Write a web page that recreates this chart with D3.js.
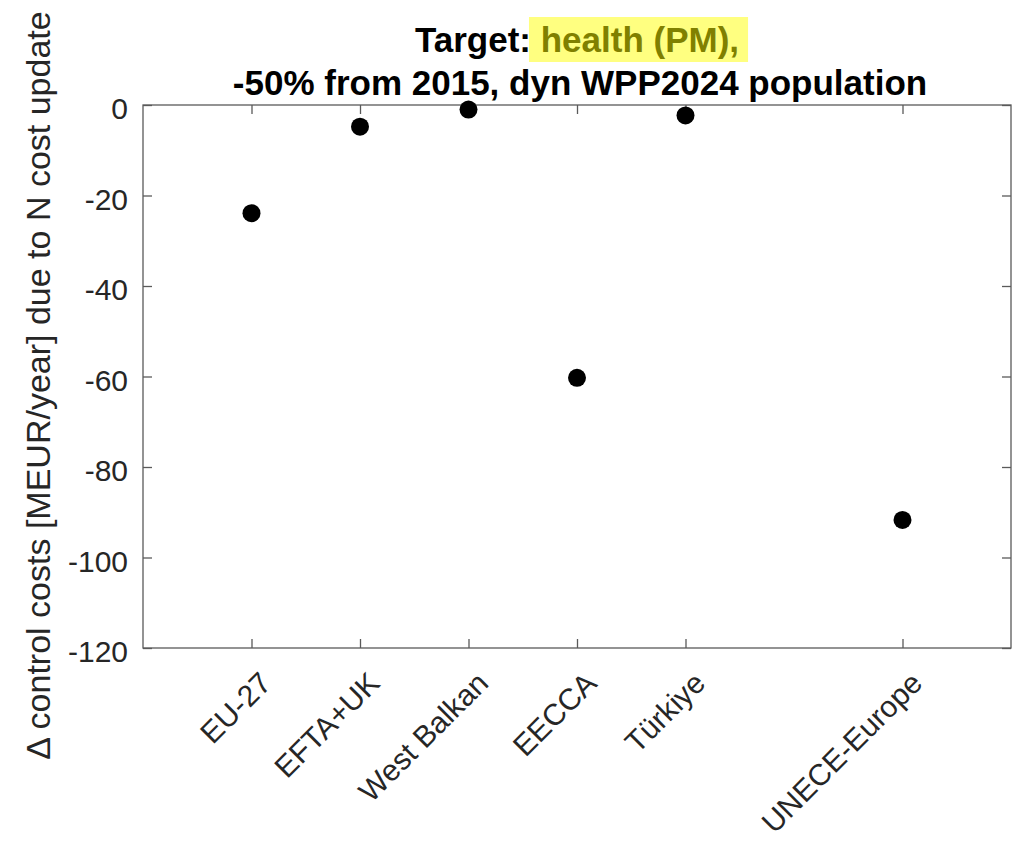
<!DOCTYPE html>
<html>
<head>
<meta charset="utf-8">
<script src="https://cdn.jsdelivr.net/npm/d3@7"></script>
<style>
  body { margin: 0; background: #fff; }
  svg { font-family: "Liberation Sans", Arial, sans-serif; }
</style>
</head>
<body>
<div id="container"></div>
<script>
/* DATA */
const regions = ["EU-27", "EFTA+UK", "West Balkan", "EECCA", "Türkiye", "UNECE-Europe"];
const regionPos = [1, 2, 3, 4, 5, 7];
const deltaCost = [-23.9, -4.8, -1.0, -60.3, -2.3, -91.7];
const yTicks = [0, -20, -40, -60, -80, -100, -120];

/* LAYOUT */
const width = 1013, height = 842;
const margin = { top: 105, left: 143, right: 2, bottom: 194 };
const innerW = width - margin.left - margin.right;
const innerH = height - margin.top - margin.bottom;
const axisColor = "#5a5a5a";
const textColor = "#262626";
const tickFont = "30px";

const svg = d3.select("#container")
  .append("svg")
  .attr("width", width)
  .attr("height", height);

const xScale = d3.scaleLinear().domain([0, 8]).range([0, innerW]);
const yScale = d3.scaleLinear().domain([-120, 0]).range([innerH, 0]);

const g = svg.append("g")
  .attr("transform", `translate(${margin.left},${margin.top})`);

// box
g.append("rect")
  .attr("width", innerW)
  .attr("height", innerH)
  .attr("fill", "none")
  .attr("stroke", axisColor)
  .attr("stroke-width", 1.3);

// y axis (left) with inward ticks
const yAxis = d3.axisLeft(yScale)
  .tickValues(yTicks)
  .tickSize(-9)
  .tickPadding(15)
  .tickFormat(d => d === 0 ? "0" : "-" + Math.abs(d));
g.append("g")
  .call(yAxis)
  .call(a => a.select(".domain").remove())
  .call(a => a.selectAll("line").attr("stroke", axisColor).attr("stroke-width", 1.3))
  .call(a => a.selectAll("text")
    .attr("fill", textColor)
    .attr("dy", "0.45em")
    .style("font-size", tickFont)
    .style("font-family", "Liberation Sans, Arial, sans-serif"));

// right ticks
g.append("g")
  .attr("transform", `translate(${innerW},0)`)
  .call(d3.axisRight(yScale).tickValues(yTicks).tickSize(-9).tickFormat(""))
  .call(a => a.select(".domain").remove())
  .call(a => a.selectAll("line").attr("stroke", axisColor).attr("stroke-width", 1.3));

// x axis bottom, rotated labels
const xAxis = d3.axisBottom(xScale)
  .tickValues(regionPos)
  .tickSize(-9)
  .tickFormat((d, i) => regions[i]);
g.append("g")
  .attr("transform", `translate(0,${innerH})`)
  .call(xAxis)
  .call(a => a.select(".domain").remove())
  .call(a => a.selectAll("line").attr("stroke", axisColor).attr("stroke-width", 1.3))
  .call(a => a.selectAll("text")
    .attr("fill", textColor)
    .style("font-size", tickFont)
    .style("font-family", "Liberation Sans, Arial, sans-serif")
    .attr("text-anchor", "end")
    .attr("dy", null)
    .attr("y", 0)
    .attr("transform", "translate(21,37) rotate(-45)"));

// top ticks
g.append("g")
  .call(d3.axisTop(xScale).tickValues(regionPos).tickSize(-9).tickFormat(""))
  .call(a => a.select(".domain").remove())
  .call(a => a.selectAll("line").attr("stroke", axisColor).attr("stroke-width", 1.3));

// points
g.selectAll("circle.pt")
  .data(regionPos.map((p, i) => ({ pos: p, val: deltaCost[i] })))
  .join("circle")
  .attr("class", "pt")
  .attr("cx", d => xScale(d.pos))
  .attr("cy", d => yScale(d.val))
  .attr("r", 9)
  .attr("fill", "#000");

// y label
svg.append("text")
  .attr("transform", `translate(50,${margin.top + innerH / 2 + 9}) rotate(-90)`)
  .attr("text-anchor", "middle")
  .attr("fill", textColor)
  .style("font-size", "34px")
  .text("Δ control costs [MEUR/year] due to N cost update");

// title
const cx = margin.left + innerW / 2;
const hlRect = svg.append("rect").attr("fill", "#ffff80");
const t1 = svg.append("text")
  .attr("x", cx)
  .attr("y", 52)
  .attr("text-anchor", "middle")
  .attr("font-weight", "bold")
  .style("font-size", "35px")
  .attr("fill", "#000");
t1.append("tspan").text("Target:");
t1.append("tspan").attr("fill", "#808000").text(" health (PM),");

svg.append("text")
  .attr("x", cx + 3)
  .attr("y", 95)
  .attr("text-anchor", "middle")
  .attr("font-weight", "bold")
  .style("font-size", "35px")
  .attr("fill", "#000")
  .text("-50% from 2015, dyn WPP2024 population");

// yellow box behind highlighted part
const node = t1.node();
const startIdx = "Target:".length;
const n = " health (PM),".length;
const s = node.getStartPositionOfChar(startIdx);
const e = node.getEndPositionOfChar(startIdx + n - 1);
hlRect
  .attr("x", s.x - 2)
  .attr("y", 17)
  .attr("width", e.x - s.x + 11)
  .attr("height", 45);
</script>
</body>
</html>
